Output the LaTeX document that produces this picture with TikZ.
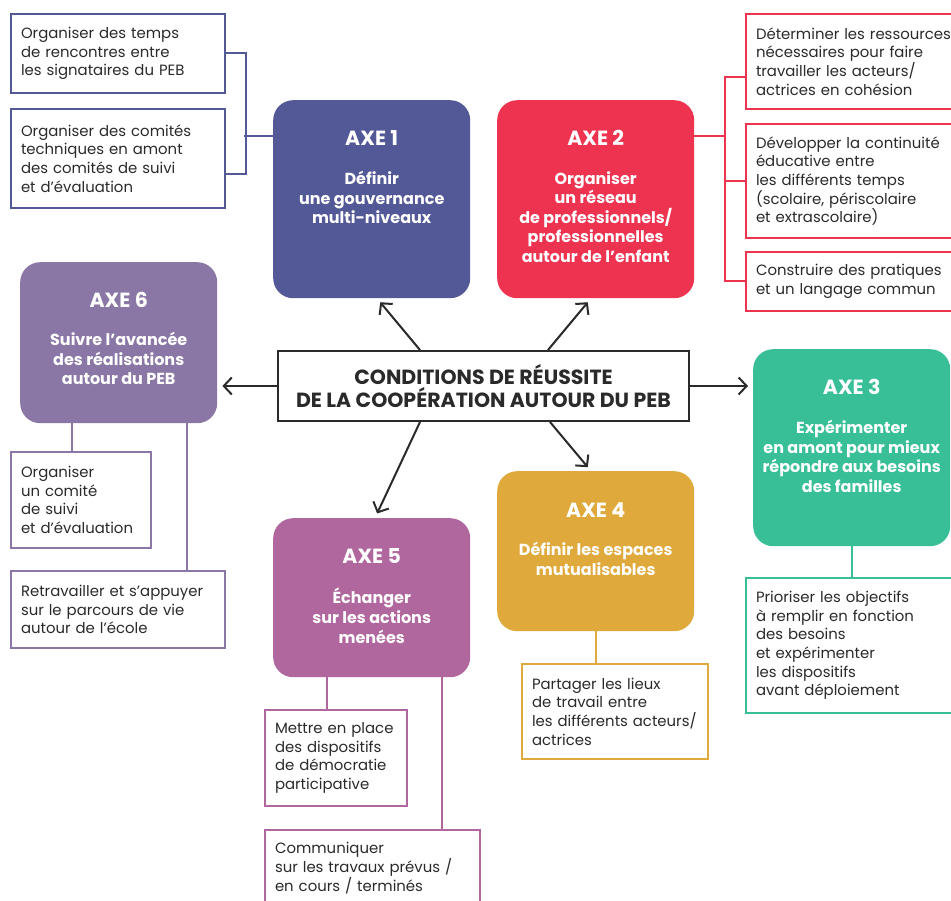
\documentclass[tikz,border=0pt]{standalone}
\usepackage{fontspec}
\setmainfont{Poppins}
\usetikzlibrary{arrows.meta,positioning}

\definecolor{axeun}{HTML}{535896}
\definecolor{axedeux}{HTML}{EE3350}
\definecolor{axetrois}{HTML}{39BF98}
\definecolor{axequatre}{HTML}{DFA93B}
\definecolor{axecinq}{HTML}{B0679E}
\definecolor{axesix}{HTML}{8A77A6}
\definecolor{encre}{HTML}{2A2A2A}

\newcommand{\soustexte}{\fontsize{14.9}{18.6}\selectfont}
\newcommand{\axetexte}{\fontsize{16}{19.6}\selectfont\bfseries}

\tikzset{
  axe/.style={fill=#1, rounded corners=20pt, anchor=north west, minimum width=197pt, inner sep=0pt},
  titre/.style={text=white, font=\fontsize{20.5}{24}\selectfont\bfseries},
  corps/.style={text=white, font=\axetexte, align=center, anchor=north, inner sep=0pt},
  sous/.style={draw=#1, line width=2pt, fill=white, anchor=north west, align=left,
    inner xsep=10pt, inner ysep=0pt, text=encre, font=\soustexte},
  lien/.style={draw=#1, line width=2pt},
  fleche/.style={draw=encre, line width=2pt, -{Straight Barb[length=8pt,width=17pt,line width=2pt]}, shorten >=5pt}
}

\begin{document}
\begin{tikzpicture}[x=1pt,y=-1pt]
\useasboundingbox (0,0) rectangle (951,901);
\clip (0,0) rectangle (951,901);

% le centre
\node[draw=encre, line width=2pt, minimum width=411pt, minimum height=70pt, inner sep=0pt,
  text=encre, font=\fontsize{20.5}{23}\selectfont\bfseries, align=center] (c) at (483.5,386)
  {CONDITIONS DE RÉUSSITE\\DE LA COOPÉRATION AUTOUR DU PEB};

% les axes
\node[axe=axeun, minimum height=198pt] (a1) at (273,100) {};
\node[axe=axedeux, minimum height=198pt] (a2) at (497,100) {};
\node[axe=axetrois, minimum height=197pt] (a3) at (753,349) {};
\node[axe=axequatre, minimum height=160pt] (a4) at (497,471) {};
\node[axe=axecinq, minimum height=159pt] (a5) at (273,518) {};
\node[axe=axesix, minimum height=161pt] (a6) at (20,262) {};

\node[titre] (a1t) at ([yshift=-38pt]a1.north) {AXE 1};
\node[titre] (a2t) at ([yshift=-38pt]a2.north) {AXE 2};
\node[titre] (a3t) at ([yshift=-38pt]a3.north) {AXE 3};
\node[titre] (a4t) at ([yshift=-39pt]a4.north) {AXE 4};
\node[titre] (a5t) at ([yshift=-38pt]a5.north) {AXE 5};
\node[titre] (a6t) at ([yshift=-38pt]a6.north) {AXE 6};

\node[corps] (a1c) at ([yshift=-71pt]a1.north) {Définir\\une gouvernance\\multi-niveaux};
\node[corps] (a2c) at ([yshift=-71pt]a2.north) {Organiser\\un réseau\\de professionnels/\\professionnelles\\autour de l’enfant};
\node[corps] (a3c) at ([yshift=-71pt]a3.north) {Expérimenter\\en amont pour mieux\\répondre aux besoins\\des familles};
\node[corps] (a4c) at ([yshift=-71pt]a4.north) {Définir les espaces\\mutualisables};
\node[corps] (a5c) at ([yshift=-70pt]a5.north) {Échanger\\sur les actions\\menées};
\node[corps] (a6c) at ([yshift=-70pt]a6.north) {Suivre l’avancée\\des réalisations\\autour du PEB};

% les actions
\node[sous=axeun, text width=194pt, minimum height=79pt] (s11) at (10,13)
  {Organiser des temps\\de rencontres entre\\les signataires du PEB};
\node[sous=axeun, text width=194pt, minimum height=99pt] (s12) at (10,108)
  {Organiser des comités\\techniques en amont\\des comités de suivi\\et d’évaluation};
\node[sous=axedeux, text width=215pt, minimum height=95pt] (s21) at (745,13)
  {Déterminer les ressources\\nécessaires pour faire\\travailler les acteurs/\\actrices en cohésion};
\node[sous=axedeux, text width=215pt, minimum height=114pt] (s22) at (745,123)
  {Développer la continuité\\éducative entre\\les différents temps\\(scolaire, périscolaire\\et extrascolaire)};
\node[sous=axedeux, text width=215pt, minimum height=59pt] (s23) at (745,251)
  {Construire des pratiques\\et un langage commun};
\node[sous=axetrois, text width=215pt, minimum height=135pt] (s31) at (745,577)
  {Prioriser les objectifs\\à remplir en fonction\\des besoins\\et expérimenter\\les dispositifs\\avant déploiement};
\node[sous=axequatre, text width=166pt, minimum height=95pt] (s41) at (521,663)
  {Partager les lieux\\de travail entre\\les différents acteurs/\\actrices};
\node[sous=axecinq, text width=122pt, minimum height=96pt] (s51) at (264,709)
  {Mettre en place\\des dispositifs\\de démocratie\\participative};
\node[sous=axecinq, text width=195pt, minimum height=76pt] (s52) at (264,829)
  {Communiquer\\sur les travaux prévus /\\en cours / terminés};
\node[sous=axesix, text width=120pt, minimum height=96pt] (s61) at (10,451)
  {Organiser\\un comité\\de suivi\\et d’évaluation};
\node[sous=axesix, text width=194pt, minimum height=77pt] (s62) at (10,570)
  {Retravailler et s’appuyer\\sur le parcours de vie\\autour de l’école};

% les liens
\draw[lien=axeun] (s11.east) -- ++(20,0) |- (s12.east |- 0,174);
\draw[lien=axeun] (a1.west |- 0,136) -- ++(-29,0);
\draw[lien=axedeux] (s21.west |- 0,77) -- ++(-20,0) |- (s23.west);
\draw[lien=axedeux] (s22.west) -- ++(-20,0);
\draw[lien=axedeux] (a2.east |- 0,136) -- ++(31,0);
\draw[lien=axetrois] (a3.south) -- (s31.north -| a3.south);
\draw[lien=axequatre] (a4.south) -- (s41.north -| a4.south);
\draw[lien=axecinq] (a5.south -| 327,0) -- (s51.north -| 327,0);
\draw[lien=axecinq] (a5.south -| 442,0) -- (s52.north -| 442,0);
\draw[lien=axesix] (a6.south -| 72,0) -- (s61.north -| 72,0);
\draw[lien=axesix] (a6.south -| 187,0) -- (s62.north -| 187,0);

% les fleches
\draw[fleche] (c.north -| 420,0) -- (a1.south -| 377,0);
\draw[fleche] (c.north -| 548,0) -- (a2.south -| 591,0);
\draw[fleche] (c.east) -- (a3.west |- c.east);
\draw[fleche] (c.south -| 550,0) -- (a4.north -| 591,0);
\draw[fleche] (c.south -| 420,0) -- (a5.north -| 375,0);
\draw[fleche] (c.west) -- (a6.east |- c.west);
\end{tikzpicture}
\end{document}
